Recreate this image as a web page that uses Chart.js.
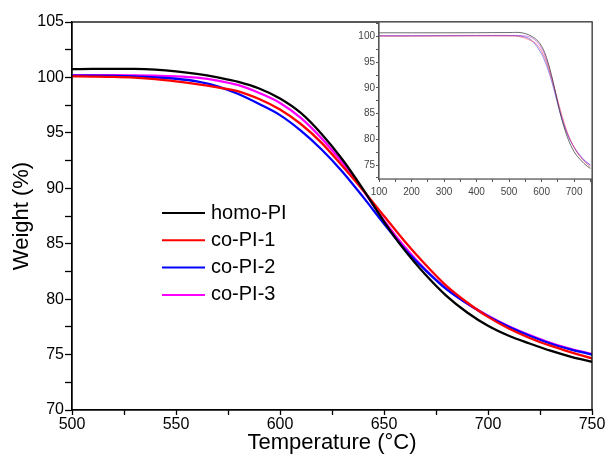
<!DOCTYPE html>
<html>
<head>
<meta charset="utf-8">
<script src="https://cdn.jsdelivr.net/npm/chart.js@4"></script>
<style>
  html, body { margin: 0; padding: 0; background: #fff; }
  #wrap { position: relative; width: 608px; height: 463px; }
  #mainChart { position: absolute; left: 0; top: 0; }
  #insetChart { position: absolute; left: 330px; top: 15px; }
</style>
</head>
<body>
<div id="wrap">
  <canvas id="mainChart" width="608" height="463"></canvas>
  <canvas id="insetChart" width="278" height="195"></canvas>
</div>
<script>
// temperatures (°C) for the main plot
const temps = [500, 510, 520, 530, 540, 550, 560, 570, 580, 590, 600, 610, 620,
               630, 640, 650, 660, 670, 680, 690, 700, 710, 720, 730, 740, 750];

// weight (%)
const homoPI = [100.75, 100.77, 100.78, 100.77, 100.7, 100.55, 100.32, 100.0, 99.6, 99.0, 98.1, 96.8, 94.9,
                92.6, 89.9, 87.0, 84.4, 82.2, 80.3, 78.8, 77.6, 76.7, 76.0, 75.35, 74.8, 74.35];
const coPI1 = [100.1, 100.08, 100.05, 99.98, 99.85, 99.65, 99.4, 99.1, 98.75, 98.05, 97.1, 95.8, 94.1,
               92.0, 89.8, 87.5, 85.2, 83.1, 81.2, 79.7, 78.4, 77.35, 76.5, 75.8, 75.2, 74.65];
const coPI2 = [100.15, 100.15, 100.14, 100.1, 100.0, 99.88, 99.65, 99.2, 98.5, 97.6, 96.6, 95.2, 93.5,
               91.5, 89.2, 86.8, 84.5, 82.6, 80.9, 79.6, 78.45, 77.5, 76.7, 76.0, 75.45, 75.0];
const coPI3 = [100.2, 100.2, 100.2, 100.18, 100.15, 100.1, 99.98, 99.72, 99.3, 98.6, 97.7, 96.35, 94.5,
               92.3, 89.8, 87.1, 84.7, 82.65, 80.95, 79.6, 78.5, 77.55, 76.75, 76.05, 75.5, 75.05];

// low temperature part shown only in the inset
const lowTemps = [100, 200, 300, 400, 450];
const lowHomo = [100.7, 100.7, 100.7, 100.72, 100.74];
const lowCo1 = [100.05, 100.05, 100.08, 100.1, 100.1];
const lowCo2 = [100.1, 100.1, 100.12, 100.15, 100.15];
const lowCo3 = [100.15, 100.15, 100.18, 100.2, 100.2];

const names = ['homo-PI', 'co-PI-1', 'co-PI-2', 'co-PI-3'];
const colors = ['#000000', '#ff0000', '#0000ff', '#ff00ff'];
const insetColors = ['rgba(60,60,60,0.75)', 'rgba(230,60,90,0.6)', 'rgba(70,60,230,0.6)', 'rgba(200,60,220,0.6)'];

const mainTicksX = [500, 550, 600, 650, 700, 750];
const mainTicksY = [70, 75, 80, 85, 90, 95, 100, 105];

const FONT = '"Liberation Sans", Arial, Helvetica, sans-serif';

function toPoints(xs, ys) {
    return xs.map((x, i) => ({ x: x, y: ys[i] }));
}

const frame = {
    id: 'frame',
    beforeDatasetsDraw(chart, args, opts) {
        const a = chart.chartArea;
        const ctx = chart.ctx;
        ctx.save();
        if (opts.fill) {
            ctx.fillStyle = opts.fill;
            ctx.fillRect(a.left, a.top, a.right - a.left, a.bottom - a.top);
        }
        ctx.restore();
    },
    afterDraw(chart, args, opts) {
        const a = chart.chartArea;
        const ctx = chart.ctx;
        ctx.save();
        ctx.strokeStyle = opts.color;
        ctx.lineWidth = opts.width;
        ctx.strokeRect(a.left, a.top, a.right - a.left, a.bottom - a.top);
        ctx.restore();
    }
};

const legendBox = {
    id: 'legendBox',
    afterDraw(chart) {
        const ctx = chart.ctx;
        ctx.save();
        ctx.font = '20px ' + FONT;
        ctx.textBaseline = 'middle';
        chart.data.datasets.forEach((ds, i) => {
            const y = 213 + i * 27.3;
            ctx.strokeStyle = ds.borderColor;
            ctx.lineWidth = 2;
            ctx.beginPath();
            ctx.moveTo(162, y);
            ctx.lineTo(205, y);
            ctx.stroke();
            ctx.fillStyle = '#000';
            ctx.fillText(ds.label, 211, y);
        });
        ctx.restore();
    }
};

const mainSeries = [homoPI, coPI1, coPI2, coPI3];

new Chart(document.getElementById('mainChart'), {
    type: 'line',
    data: {
        datasets: mainSeries.map((s, i) => ({
            label: names[i],
            data: toPoints(temps, s),
            borderColor: colors[i],
            borderWidth: 2.3,
            pointRadius: 0,
            cubicInterpolationMode: 'monotone'
        }))
    },
    options: {
        responsive: false,
        animation: false,
        layout: { padding: { left: 9, right: 16, top: 22, bottom: 7 } },
        plugins: {
            legend: { display: false },
            tooltip: { enabled: false },
            frame: { color: '#000', width: 1.3 }
        },
        scales: {
            x: {
                type: 'linear',
                min: 500,
                max: 750,
                afterFit: s => { s.height = 46; },
                afterBuildTicks: s => {
                    s.ticks = [];
                    for (let v = 500; v <= 750; v += 25) s.ticks.push({ value: v });
                },
                ticks: {
                    color: '#000',
                    font: { family: FONT, size: 16 },
                    padding: 0,
                    maxRotation: 0,
                    autoSkip: false,
                    callback: v => mainTicksX.includes(v) ? String(v) : ''
                },
                grid: { drawOnChartArea: false, drawTicks: true, tickLength: 5, tickColor: '#000', tickWidth: 1.3 },
                border: { display: true, color: '#000', width: 1.3 },
                title: {
                    display: true,
                    text: 'Temperature (°C)',
                    color: '#000',
                    font: { family: FONT, size: 22 },
                    padding: 0
                }
            },
            y: {
                type: 'linear',
                min: 70,
                max: 105,
                afterFit: s => { s.width = 63; },
                afterBuildTicks: s => {
                    s.ticks = [];
                    for (let v = 70; v <= 105; v += 2.5) s.ticks.push({ value: v });
                },
                ticks: {
                    color: '#000',
                    font: { family: FONT, size: 16 },
                    padding: 1,
                    autoSkip: false,
                    callback: v => mainTicksY.includes(v) ? String(v) : ''
                },
                grid: { drawOnChartArea: false, drawTicks: true, tickLength: 7, tickColor: '#000', tickWidth: 1.3 },
                border: { display: true, color: '#000', width: 1.3 },
                title: {
                    display: true,
                    text: 'Weight (%)',
                    color: '#000',
                    font: { family: FONT, size: 22 },
                    padding: 0
                }
            }
        }
    },
    plugins: [frame, legendBox]
});

// inset: full temperature range
const insetTemps = lowTemps.concat(temps);
const insetSeries = [
    lowHomo.concat(homoPI),
    lowCo1.concat(coPI1),
    lowCo2.concat(coPI2),
    lowCo3.concat(coPI3)
];
const insetTicksX = [100, 200, 300, 400, 500, 600, 700];
const insetTicksY = [75, 80, 85, 90, 95, 100];

new Chart(document.getElementById('insetChart'), {
    type: 'line',
    data: {
        datasets: insetSeries.map((s, i) => ({
            label: names[i],
            data: toPoints(insetTemps, s),
            borderColor: insetColors[i],
            borderWidth: 1,
            pointRadius: 0,
            cubicInterpolationMode: 'monotone'
        }))
    },
    options: {
        responsive: false,
        animation: false,
        layout: { padding: { left: 0, right: 16, top: 7, bottom: 0 } },
        plugins: {
            legend: { display: false },
            tooltip: { enabled: false },
            frame: { color: '#555', width: 1.2, fill: '#fff' }
        },
        scales: {
            x: {
                type: 'linear',
                min: 100,
                max: 755,
                afterFit: s => { s.height = 31; },
                afterBuildTicks: s => {
                    s.ticks = [];
                    for (let v = 100; v <= 750; v += 50) s.ticks.push({ value: v });
                },
                ticks: {
                    color: '#444',
                    font: { family: FONT, size: 10 },
                    padding: 4,
                    maxRotation: 0,
                    autoSkip: false,
                    callback: v => insetTicksX.includes(v) ? String(v) : ''
                },
                grid: { drawOnChartArea: false, drawTicks: true, tickLength: 3, tickColor: '#555' },
                border: { display: true, color: '#555', width: 1.2 }
            },
            y: {
                type: 'linear',
                min: 72.3,
                max: 102.8,
                afterFit: s => { s.width = 49; },
                afterBuildTicks: s => {
                    s.ticks = [];
                    for (let v = 72.5; v <= 102.5; v += 2.5) s.ticks.push({ value: v });
                },
                ticks: {
                    color: '#444',
                    font: { family: FONT, size: 10 },
                    padding: 1,
                    autoSkip: false,
                    callback: v => insetTicksY.includes(v) ? String(v) : ''
                },
                grid: { drawOnChartArea: false, drawTicks: true, tickLength: 3, tickColor: '#555' },
                border: { display: true, color: '#555', width: 1.2 }
            }
        }
    },
    plugins: [frame]
});
</script>
</body>
</html>
